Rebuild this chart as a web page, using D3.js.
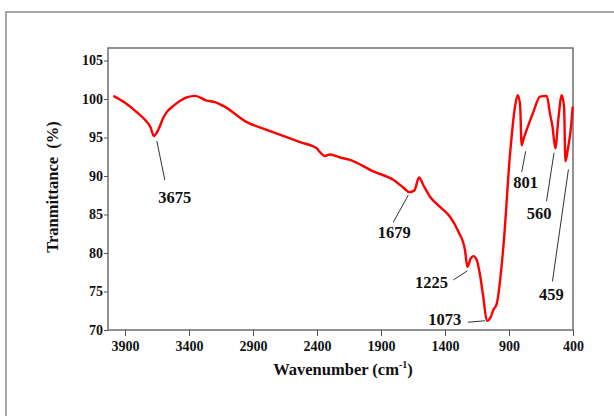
<!DOCTYPE html>
<html>
<head>
<meta charset="utf-8">
<script src="https://cdn.jsdelivr.net/npm/d3@7"></script>
<style>
  body { margin: 0; background: #fff; }
  text { font-family: "Liberation Serif", "Times New Roman", serif; font-weight: bold; fill: #111; }
</style>
</head>
<body>
<svg width="614" height="416"></svg>
<script>
// spectrum (wavenumber cm-1, transmittance %)
const wavenumbers = [3991, 3900, 3809, 3744, 3700, 3675, 3640, 3600, 3574, 3522, 3418, 3353, 3262, 3197, 3132,
    2949, 2793, 2533, 2402, 2377, 2338, 2298, 2220, 2142, 1960, 1804, 1726, 1679, 1640, 1603, 1569,
    1517, 1439, 1361, 1296, 1244, 1225, 1199, 1179, 1152, 1127, 1101, 1073, 1040, 1023, 996, 944,
    892, 853, 832, 814, 801, 783, 762, 710, 658, 605, 580, 560, 538, 515, 488, 470, 459, 440, 418, 402];
const transmittance = [100.4, 99.5, 98.3, 97.3, 96.3, 95.2, 96.0, 97.6, 98.3, 99.1, 100.2, 100.4, 99.8, 99.6, 99.1,
    97.0, 96.0, 94.4, 93.6, 93.1, 92.6, 92.8, 92.4, 92.1, 90.6, 89.5, 88.5, 87.9, 88.1, 89.8, 88.8,
    87.3, 86.0, 84.7, 82.8, 80.4, 78.2, 79.3, 79.6, 79.1, 77.2, 74.3, 71.2, 71.8, 72.6, 73.4, 80.8,
    92.8, 99.0, 100.5, 99.4, 94.0, 95.0, 96.0, 98.3, 100.3, 100.4, 98.1, 96.4, 93.6, 97.3, 100.5, 99.0, 91.9, 93.5, 96.0, 99.0];

const xTicks = [3900, 3400, 2900, 2400, 1900, 1400, 900, 400];
const yTicks = [70, 75, 80, 85, 90, 95, 100, 105];

// labelled bands
const peakWn = [3675, 1679, 1225, 1073, 801, 560, 459];
const peakT = [95.2, 87.9, 78.2, 71.2, 94.0, 93.6, 91.9];
// label layout: leader start, leader end, text position (relative to the band point)
const peakLayout = [
    { l1: [3, 5], l2: [11, 44], t: [21, 67] },
    { l1: [-1, 3], l2: [-16, 30], t: [-15, 46] },
    { l1: [0, 4], l2: [-14, 13], t: [-36, 21] },
    { l1: [-2, 0], l2: [-19, 1.5], t: [-42, 4] },
    { l1: [4, 6], l2: [0, 27], t: [4, 43] },
    { l1: [1.5, 4.5], l2: [-6, 53], t: [-13.5, 71] },
    { l1: [3, 8], l2: [-13, 120], t: [-14, 139] },
];

const svg = d3.select('svg');

const plotLeft = 108, plotRight = 573, plotTop = 48, plotBottom = 330;

const x = d3.scaleLinear().domain([4033, 400]).range([plotLeft, plotRight]);
const y = d3.scaleLinear().domain([70, 105]).range([plotBottom, 60.5]);

// outer frame
svg.append('rect')
    .attr('x', 6).attr('y', 12).attr('width', 700).attr('height', 500)
    .attr('fill', 'none').attr('stroke', '#8a8a8a').attr('stroke-width', 1.5);

// plot frame
svg.append('rect')
    .attr('x', plotLeft).attr('y', plotTop)
    .attr('width', plotRight - plotLeft).attr('height', plotBottom - plotTop)
    .attr('fill', 'none').attr('stroke', '#6e6e6e').attr('stroke-width', 1.5);

const xAxis = svg.append('g')
    .attr('transform', `translate(0,${plotBottom})`)
    .call(d3.axisBottom(x).tickValues(xTicks).tickSize(6).tickPadding(5).tickFormat(d3.format('d')));
xAxis.select('.domain').remove();
xAxis.selectAll('line').attr('stroke', '#555');
xAxis.selectAll('text').attr('font-size', 14).attr('font-family', null).attr('fill', '#111');

const yAxis = svg.append('g')
    .attr('transform', `translate(${plotLeft},0)`)
    .call(d3.axisLeft(y).tickValues(yTicks).tickSize(4).tickPadding(1));
yAxis.select('.domain').remove();
yAxis.selectAll('line').attr('stroke', '#555');
yAxis.selectAll('text').attr('font-size', 14).attr('font-family', null).attr('fill', '#111');

// spectrum
const points = wavenumbers.map((w, i) => [w, transmittance[i]]);
svg.append('path')
    .datum(points)
    .attr('fill', 'none')
    .attr('stroke', '#ff0000')
    .attr('stroke-width', 2.4)
    .attr('stroke-linejoin', 'round')
    .attr('d', d3.line().x(d => x(d[0])).y(d => y(d[1])).curve(d3.curveMonotoneX));

// band labels
peakWn.forEach((w, i) => {
    const px = x(w), py = y(peakT[i]);
    const lay = peakLayout[i];
    svg.append('line')
        .attr('x1', px + lay.l1[0]).attr('y1', py + lay.l1[1])
        .attr('x2', px + lay.l2[0]).attr('y2', py + lay.l2[1])
        .attr('stroke', '#333').attr('stroke-width', 1);
    svg.append('text')
        .attr('x', px + lay.t[0]).attr('y', py + lay.t[1])
        .attr('text-anchor', 'middle')
        .attr('font-size', 16.5)
        .text(w);
});

// axis titles
const xt = svg.append('text')
    .attr('x', 343).attr('y', 375)
    .attr('text-anchor', 'middle')
    .attr('font-size', 16.5);
xt.append('tspan').text('Wavenumber (cm');
xt.append('tspan').attr('font-size', 10).attr('dy', -7).text('-1');
xt.append('tspan').attr('dy', 7).text(')');

svg.append('text')
    .attr('transform', 'translate(58,187) rotate(-90)')
    .attr('text-anchor', 'middle')
    .attr('font-size', 16.5)
    .style('white-space', 'pre')
    .text('Tranmittance  (%)');
</script>
</body>
</html>
